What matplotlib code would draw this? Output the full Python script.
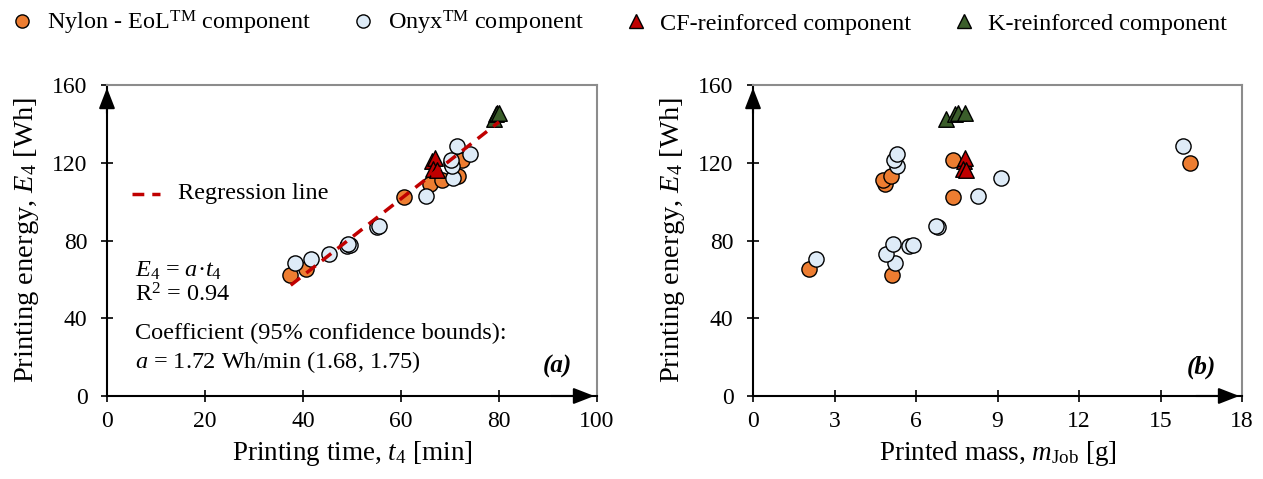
import matplotlib
matplotlib.use("Agg")
import matplotlib.pyplot as plt
from matplotlib.lines import Line2D

plt.rcParams['font.family'] = ['Liberation Serif', 'DejaVu Serif']
plt.rcParams['mathtext.fontset'] = 'custom'
plt.rcParams['mathtext.rm'] = 'Liberation Serif'
plt.rcParams['mathtext.it'] = 'Liberation Serif:italic'

# Nylon - EoL components: time [min], mass [g], energy [Wh]
nylon_t = [37.3, 40.7, 60.6, 65.9, 68.3, 71.7, 70.3, 72.4]
nylon_m = [5.13, 2.07, 7.35, 4.86, 4.77, 5.08, 16.08, 7.35]
nylon_E = [62.5, 65.3, 102.3, 109.0, 111.3, 113.3, 120.0, 121.2]

# Onyx components
onyx_t = [38.4, 41.6, 45.4, 48.9, 49.5, 49.2, 55.0, 55.5, 65.2, 70.7, 70.5, 70.3, 74.0, 71.4]
onyx_m = [5.23, 2.33, 4.90, 5.75, 5.90, 5.14, 6.80, 6.72, 8.29, 9.12, 5.29, 5.20, 5.29, 15.84]
onyx_E = [68.4, 70.6, 72.8, 77.3, 77.9, 78.3, 86.8, 87.3, 102.7, 112.1, 118.5, 121.5, 124.4, 128.7]

# CF-reinforced components
cf_t = [66.3, 67.0, 66.6, 67.3]
cf_m = [7.75, 7.82, 7.72, 7.85]
cf_E = [121.0, 122.5, 117.0, 116.5]

# K-reinforced components
k_t = [79.0, 79.4, 79.6, 79.9]
k_m = [7.12, 7.42, 7.55, 7.79]
k_E = [142.5, 145.0, 145.5, 145.5]

# regression line end points
reg_t = [37.5, 80.0]
reg_E = [57.0, 141.0]

c_nylon = '#ED7D31'
c_onyx = '#DEEBF7'
c_cf = '#C00000'
c_k = '#3B5E2B'

fig = plt.figure(figsize=(12.63, 4.79), dpi=100)
ax1 = fig.add_axes([0.0847, 0.1733, 0.388, 0.6492])
ax2 = fig.add_axes([0.5962, 0.1733, 0.3872, 0.6492])

def style_axes(ax, xmax, xstep):
	ax.set_xlim(0, xmax)
	ax.set_ylim(0, 160)
	ax.set_xticks(range(0, xmax + 1, xstep))
	ax.set_yticks(range(0, 161, 40))
	ax.tick_params(direction='inout', length=8, width=1.2, labelsize=17)
	ax.tick_params(axis='x', top=False, pad=7)
	ax.tick_params(axis='y', right=False, pad=10)
	for s in ['top', 'right']:
		ax.spines[s].set_color('#8C8C8C')
		ax.spines[s].set_linewidth(1.5)
	for s in ['left', 'bottom']:
		ax.spines[s].set_color('black')
		ax.spines[s].set_linewidth(1.5)
	arrow = dict(arrowstyle='-|>,head_length=0.9,head_width=0.35', color='black', lw=1.5, mutation_scale=14)
	ax.annotate('', xy=(0, 1), xytext=(0, 0.9), xycoords='axes fraction', arrowprops=arrow, zorder=10)
	ax.annotate('', xy=(1, 0), xytext=(0.9, 0), xycoords='axes fraction', arrowprops=arrow, zorder=10)
	ax.set_ylabel('Printing energy, $E_4$ [Wh]', fontsize=20.5, labelpad=8)

def scatter_all(ax, xs):
	ax.scatter(xs[0], nylon_E, s=120, c=c_nylon, edgecolors='black', linewidths=1, zorder=3)
	ax.scatter(xs[1], onyx_E, s=120, c=c_onyx, edgecolors='black', linewidths=1, zorder=3)
	ax.scatter(xs[2], cf_E, s=125, marker='^', c=c_cf, edgecolors='black', linewidths=1, zorder=4)
	ax.scatter(xs[3], k_E, s=125, marker='^', c=c_k, edgecolors='black', linewidths=1, zorder=4)

# (a) energy vs time
style_axes(ax1, 100, 20)
scatter_all(ax1, [nylon_t, onyx_t, cf_t, k_t])
ax1.plot(reg_t, reg_E, '--', color=c_cf, linewidth=2.5, dashes=(3.4, 2.3), zorder=5)
ax1.set_xlabel('Printing time, $t_4$ [min]', fontsize=19.5, labelpad=5)
ax1.plot([5.2, 10.8], [104, 104], '--', color=c_cf, linewidth=2.5, dashes=(3.4, 2.3))
ax1.text(14.4, 104, 'Regression line', fontsize=17.5, va='center')
ax1.text(5.8, 64.6, '$E_4$ = $a$·$t_4$', fontsize=17.5, va='center')
ax1.text(5.8, 51.8, 'R$^2$ = 0.94', fontsize=17.5, va='center')
ax1.text(5.8, 32.2, 'Coefficient (95% confidence bounds):', fontsize=17.5, va='center')
ax1.text(5.8, 17.6, '$a$ = 1.72 Wh/min (1.68, 1.75)', fontsize=17.5, va='center')
ax1.text(94.8, 15, '(a)', fontsize=18, fontweight='bold', fontstyle='italic', ha='right', va='center')

# (b) energy vs mass
style_axes(ax2, 18, 3)
scatter_all(ax2, [nylon_m, onyx_m, cf_m, k_m])
ax2.set_xlabel('Printed mass, $m_{\\mathrm{Job}}$ [g]', fontsize=19.5, labelpad=5)
ax2.text(17.05, 15, '(b)', fontsize=18, fontweight='bold', fontstyle='italic', ha='right', va='center')

handles = [
	Line2D([], [], marker='o', linestyle='none', markersize=9.5, markerfacecolor=c_nylon, markeredgecolor='black'),
	Line2D([], [], marker='o', linestyle='none', markersize=9.5, markerfacecolor=c_onyx, markeredgecolor='black'),
	Line2D([], [], marker='^', linestyle='none', markersize=10.5, markerfacecolor=c_cf, markeredgecolor='black'),
	Line2D([], [], marker='^', linestyle='none', markersize=10.5, markerfacecolor=c_k, markeredgecolor='black'),
]
labels = ['Nylon - EoL$^{\\mathrm{TM}}$ component', 'Onyx$^{\\mathrm{TM}}$ component',
	'CF-reinforced component', 'K-reinforced component']
fig.legend(handles, labels, loc='upper left', bbox_to_anchor=(0.5 / 1263, 1 + 3 / 479), ncol=4, frameon=False,
	fontsize=17.5, handletextpad=0.6, columnspacing=1.75, handlelength=0.8, borderpad=0)

fig.savefig('out.png', dpi=100)
